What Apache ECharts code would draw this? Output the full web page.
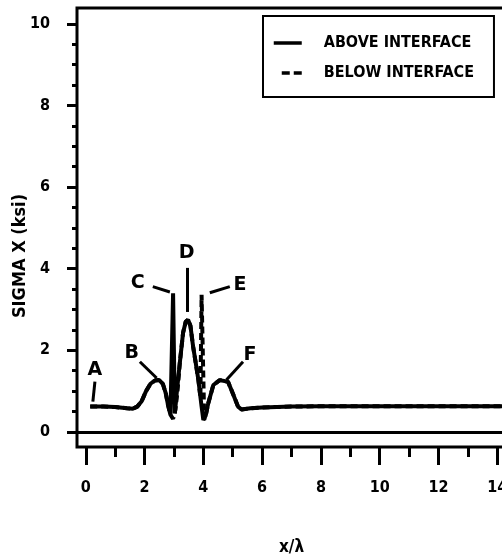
<!DOCTYPE html>
<html>
<head>
<meta charset="utf-8">
<script src="https://cdn.jsdelivr.net/npm/echarts@6/dist/echarts.min.js"></script>
<style>
html,body{margin:0;padding:0;background:#fff;}
#chart{width:502px;height:559px;}
</style>
</head>
<body>
<div id="chart"></div>
<script>
// ---- data ----
const seriesNames = ['ABOVE INTERFACE', 'BELOW INTERFACE'];

const aboveX = [0.15, 0.6, 1.0, 1.4, 1.6, 1.75, 1.9, 2.05, 2.2, 2.35, 2.5, 2.62, 2.72, 2.8, 2.88, 2.97, 3.03, 3.1, 3.2, 3.31, 3.4, 3.48, 3.56, 3.65, 3.75, 3.83, 3.94, 4.0, 4.08, 4.17, 4.34, 4.56, 4.84, 5.0, 5.18, 5.3, 5.6, 6.0, 7.0, 8.0, 10.0, 12.0, 14.3];
const aboveY = [0.62, 0.62, 0.61, 0.58, 0.57, 0.62, 0.75, 1.0, 1.18, 1.26, 1.27, 1.18, 0.95, 0.65, 0.42, 3.40, 0.45, 1.0, 1.7, 2.43, 2.7, 2.75, 2.6, 2.1, 1.65, 1.28, 0.62, 0.29, 0.4, 0.71, 1.15, 1.27, 1.23, 0.95, 0.62, 0.55, 0.58, 0.6, 0.62, 0.63, 0.63, 0.63, 0.63];

const belowX = [0.15, 0.6, 1.0, 1.4, 1.6, 1.75, 1.9, 2.05, 2.2, 2.35, 2.5, 2.62, 2.72, 2.8, 2.88, 2.97, 3.05, 3.12, 3.2, 3.31, 3.4, 3.48, 3.56, 3.65, 3.75, 3.83, 3.9, 3.94, 4.03, 4.08, 4.17, 4.34, 4.56, 4.84, 5.0, 5.18, 5.3, 5.6, 6.0, 7.0, 8.0, 10.0, 12.0, 14.3];
const belowY = [0.62, 0.62, 0.61, 0.58, 0.57, 0.62, 0.75, 1.0, 1.18, 1.26, 1.27, 1.18, 0.95, 0.65, 0.42, 0.32, 0.55, 1.0, 1.7, 2.43, 2.7, 2.75, 2.6, 2.1, 1.65, 1.28, 0.85, 3.36, 0.3, 0.4, 0.71, 1.15, 1.27, 1.23, 0.95, 0.62, 0.55, 0.58, 0.6, 0.62, 0.63, 0.63, 0.63, 0.63];

const xTicks = [0, 2, 4, 6, 8, 10, 12, 14];
const xMinorTicks = [1, 3, 5, 7, 9, 11, 13];
const yTicks = [0, 2, 4, 6, 8, 10];
const yMinorTicks = [0.5, 1, 1.5, 2.5, 3, 3.5, 4.5, 5, 5.5, 6.5, 7, 7.5, 8.5, 9, 9.5];

// annotation letters (data coords) and their leader lines
const noteLetters = ['A', 'B', 'C', 'D', 'E', 'F'];
const noteX = [0.31, 1.56, 1.77, 3.43, 5.25, 5.59];
const noteY = [1.52, 1.94, 3.65, 4.39, 3.61, 1.89];
const leaderFrom = [[0.31, 1.23], [1.84, 1.72], [2.28, 3.56], [3.46, 4.02], [4.22, 3.41], [4.79, 1.28]];
const leaderTo = [[0.24, 0.74], [2.41, 1.32], [2.86, 3.43], [3.46, 2.94], [4.90, 3.56], [5.35, 1.72]];

const axisFont = '"Liberation Sans Narrow", "DejaVu Sans Condensed", sans-serif';
const textFont = '"DejaVu Sans Condensed", "Liberation Sans Narrow", sans-serif';

const pairs = (xs, ys) => xs.map((x, i) => [x, ys[i]]);

const chart = echarts.init(document.getElementById('chart'), null, {renderer: 'canvas'});

const option = {
  backgroundColor: '#fff',
  animation: false,
  grid: {
    left: 77, top: 8, right: -4, bottom: 112,
    outerBoundsMode: 'none', containLabel: false,
    show: true, borderColor: '#000', borderWidth: 3, backgroundColor: 'transparent'
  },
  legend: {
    data: [
      {name: seriesNames[0]},
      {name: seriesNames[1], lineStyle: {type: [0, 8, 8, 4, 8, 100]}}
    ],
    orient: 'vertical',
    left: 263, top: 16,
    padding: [19, 20, 16, 9],
    itemGap: 14,
    itemWidth: 28, itemHeight: 14,
    itemStyle: {opacity: 0},
    lineStyle: {width: 3.5, color: '#000'},
    borderColor: '#000', borderWidth: 2,
    textStyle: {fontFamily: textFont, fontWeight: 'bold', fontSize: 16, color: '#000', padding: [0, 0, 0, 17]}
  },
  xAxis: [{
    type: 'value', min: -0.3, max: 14.3, position: 'bottom',
    axisLine: {show: false, onZero: false},
    splitLine: {show: false},
    axisTick: {show: true, customValues: xTicks, length: 18, inside: false, lineStyle: {color: '#000', width: 3}},
    axisLabel: {customValues: xTicks, margin: 33, color: '#000', fontFamily: axisFont, fontWeight: 'bold', fontSize: 16},
    name: 'x/λ', nameLocation: 'middle', nameGap: 92,
    nameTextStyle: {fontFamily: textFont, fontWeight: 'bold', fontSize: 17, color: '#000'}
  }, {
    type: 'value', min: -0.3, max: 14.3, position: 'bottom',
    axisLine: {show: false, onZero: false}, splitLine: {show: false},
    axisTick: {show: true, customValues: xMinorTicks, length: 10, lineStyle: {color: '#000', width: 3}},
    axisLabel: {show: false}
  }],
  yAxis: [{
    type: 'value', min: -0.37, max: 10.39, position: 'left',
    axisLine: {show: false, onZero: false}, splitLine: {show: false},
    axisTick: {show: true, customValues: yTicks, length: 10, lineStyle: {color: '#000', width: 3}},
    axisLabel: {customValues: yTicks, margin: 27, color: '#000', fontFamily: axisFont, fontWeight: 'bold', fontSize: 16}
  }, {
    type: 'value', min: -0.37, max: 10.39, position: 'left',
    axisLine: {show: false, onZero: false}, splitLine: {show: false},
    axisTick: {show: true, customValues: yMinorTicks, length: 5, lineStyle: {color: '#000', width: 3}},
    axisLabel: {show: false}
  }],
  graphic: [{
    type: 'text',
    rotation: Math.PI / 2,
    x: 20, y: 256,
    style: {text: 'SIGMA X (ksi)', fill: '#000', font: 'bold 18px ' + textFont, textAlign: 'center', textVerticalAlign: 'middle'}
  }],
  series: [{
    name: seriesNames[1], type: 'line', xAxisIndex: 0, yAxisIndex: 0,
    data: pairs(belowX, belowY),
    showSymbol: false, symbol: 'none',
    lineStyle: {color: '#000', width: 4, type: [7, 4]},
    itemStyle: {color: '#000'}
  }, {
    name: seriesNames[0], type: 'line', xAxisIndex: 0, yAxisIndex: 0,
    data: pairs(aboveX, aboveY),
    showSymbol: false, symbol: 'none',
    lineStyle: {color: '#000', width: 4},
    itemStyle: {color: '#000'},
    markLine: {
      silent: true, symbol: 'none', animation: false,
      label: {show: false},
      lineStyle: {color: '#000', width: 3, type: 'solid'},
      data: [[{coord: [-0.3, 0]}, {coord: [14.3, 0]}]].concat(
        leaderFrom.map((p, i) => [{coord: p}, {coord: leaderTo[i]}])
      )
    },
    markPoint: {
      silent: true, symbol: 'circle', symbolSize: 0, animation: false,
      label: {show: true, position: 'inside', color: '#000', fontFamily: '"DejaVu Sans", sans-serif', fontWeight: 'bold', fontSize: 19, formatter: p => p.name},
      data: noteLetters.map((l, i) => ({name: l, coord: [noteX[i], noteY[i]]}))
    }
  }]
};
chart.setOption(option);
</script>
</body>
</html>
